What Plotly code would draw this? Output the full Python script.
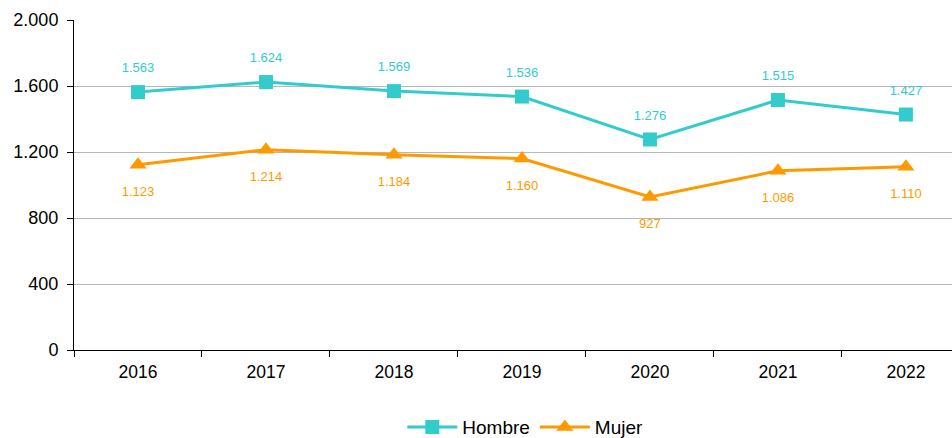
import plotly.graph_objects as go

years = ["2016", "2017", "2018", "2019", "2020", "2021", "2022"]
hombre = [1563, 1624, 1569, 1536, 1276, 1515, 1427]
mujer = [1123, 1214, 1184, 1160, 927, 1086, 1110]
y_ticks = [0, 400, 800, 1200, 1600, 2000]

c_h = "#33CCCC"
c_m = "#FF9900"

def fmt(v):
    return f"{v:,}".replace(",", ".")

fig = go.Figure()
fig.add_trace(go.Scatter(x=years, y=hombre, name="Hombre", mode="lines+markers",
                         line=dict(color=c_h, width=3),
                         marker=dict(symbol="square", size=14, color=c_h)))
fig.add_trace(go.Scatter(x=years, y=mujer, name="Mujer", mode="lines+markers",
                         line=dict(color=c_m, width=3),
                         marker=dict(symbol="triangle-up", size=15, color=c_m)))
# data labels (invisible markers set the label offset)
fig.add_trace(go.Scatter(x=years, y=hombre, mode="markers+text", showlegend=False,
                         hoverinfo="skip", text=[fmt(v) for v in hombre],
                         textposition="top center",
                         textfont=dict(color=c_h, size=13),
                         marker=dict(size=25, opacity=0), cliponaxis=False))
fig.add_trace(go.Scatter(x=years, y=mujer, mode="markers+text", showlegend=False,
                         hoverinfo="skip", text=[fmt(v) for v in mujer],
                         textposition="bottom center",
                         textfont=dict(color=c_m, size=13),
                         marker=dict(size=33, opacity=0), cliponaxis=False))

fig.update_layout(
    width=952, height=438,
    margin=dict(l=74, r=0, t=20, b=88, autoexpand=False),
    plot_bgcolor="white", paper_bgcolor="white",
    separators=",.",
    font=dict(family="Liberation Sans, Arial, sans-serif", size=17.5, color="#000000"),
    showlegend=True,
    legend=dict(orientation="h", x=0.514, xanchor="center", xref="paper",
                y=0.025, yanchor="middle", yref="container", font=dict(size=19),
                itemwidth=50),
    xaxis=dict(type="category", range=[-0.5, 6.36], showline=True,
               linecolor="#000000", linewidth=1, ticks="outside",
               tickson="boundaries", ticklen=6, tickcolor="#000000",
               ticklabelstandoff=6, showgrid=False),
    yaxis=dict(range=[0, 2000], tickvals=y_ticks, tickformat=",d",
               showline=True, linecolor="#000000", linewidth=1,
               ticks="outside", ticklen=6, tickcolor="#000000",
               ticklabelstandoff=5, tickfont=dict(size=18),
               showgrid=True, gridcolor="#B8B8B8", gridwidth=1,
               zeroline=False),
)

fig.write_html("out.html", config={"displayModeBar": False},
               post_script="document.body.style.margin='0';")
